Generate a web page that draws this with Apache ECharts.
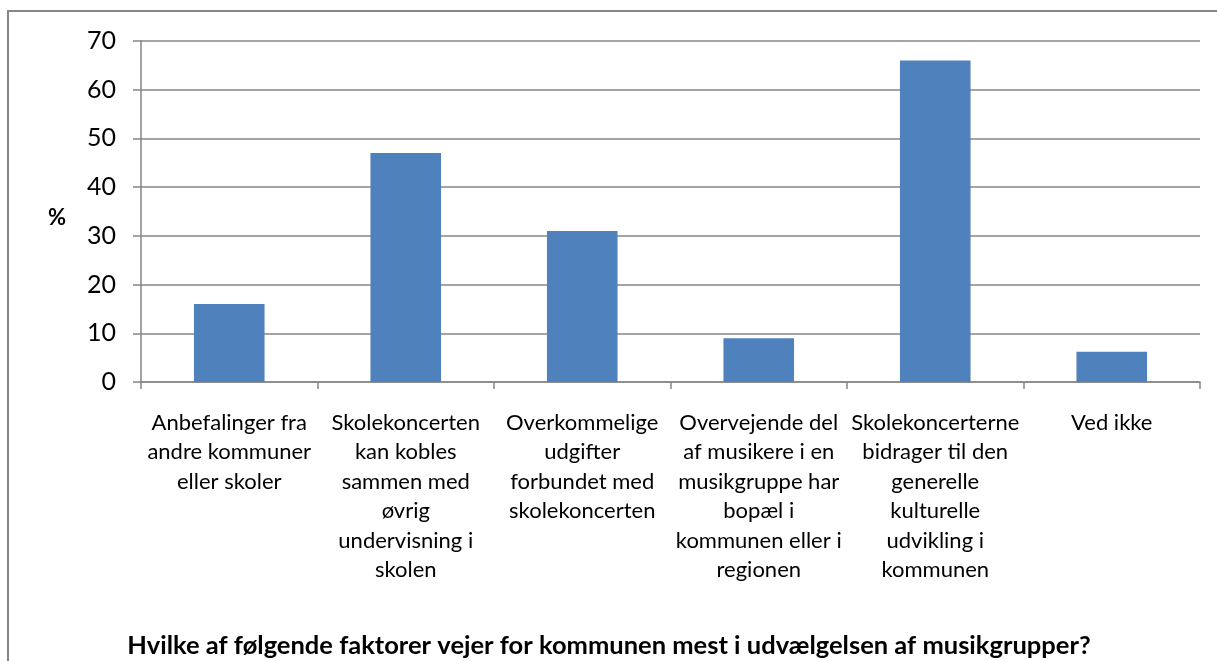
<!DOCTYPE html>
<html>
<head>
<meta charset="utf-8">
<script src="https://cdn.jsdelivr.net/npm/echarts@6/dist/echarts.min.js"></script>
<style>
  html, body { margin: 0; padding: 0; background: #ffffff; }
  #chart { width: 1217px; height: 661px; }
</style>
</head>
<body>
<div id="chart"></div>
<script>
// Answer categories (line breaks as the labels wrap under each bar)
const categories = [
  'Anbefalinger fra\nandre kommuner\neller skoler',
  'Skolekoncerten\nkan kobles\nsammen med\nøvrig\nundervisning i\nskolen',
  'Overkommelige\nudgifter\nforbundet med\nskolekoncerten',
  'Overvejende del\naf musikere i en\nmusikgruppe har\nbopæl i\nkommunen eller i\nregionen',
  'Skolekoncerterne\nbidrager til den\ngenerelle\nkulturelle\nudvikling i\nkommunen',
  'Ved ikke'
];
// Share of municipalities (%)
const shares = [16, 47, 31, 9, 66, 6.2];
const yTicks = { min: 0, max: 70, step: 10 };
const yAxisName = '%';
const title = 'Hvilke af følgende faktorer vejer for kommunen mest i udvælgelsen af musikgrupper?';

const FONT = 'Lato, "Open Sans", sans-serif';
const GREY = '#868686';

const chart = echarts.init(document.getElementById('chart'), null, { renderer: 'canvas' });
chart.setOption({
  animation: false,
  backgroundColor: '#ffffff',
  title: {
    text: title,
    left: 604,
    textAlign: 'center',
    top: 628,
    textStyle: { fontFamily: FONT, fontWeight: 'bold', fontSize: 25.5, color: '#000' }
  },
  graphic: [
    {
      type: 'rect',
      shape: { x: 8, y: 11, width: 1240, height: 700 },
      style: { fill: null, stroke: GREY, lineWidth: 2 },
      silent: true
    },
    {
      type: 'text',
      left: 48, top: 207,
      style: { text: yAxisName, fontFamily: FONT, fontWeight: 'bold', fontSize: 22, fill: '#000' }
    }
  ],
  grid: { left: 141, right: 17, top: 41, bottom: 279, containLabel: false },
  xAxis: {
    type: 'category',
    data: categories,
    axisLine: { lineStyle: { color: GREY, width: 1.5 } },
    axisTick: { show: true, length: 7, alignWithLabel: false, lineStyle: { color: GREY, width: 1.5 } },
    axisLabel: {
      interval: 0,
      margin: 26,
      color: '#000',
      fontFamily: FONT,
      fontSize: 22,
      lineHeight: 29.5,
      align: 'center'
    }
  },
  yAxis: {
    type: 'value',
    min: yTicks.min,
    max: yTicks.max,
    interval: yTicks.step,
    axisLine: { show: true, lineStyle: { color: GREY, width: 1.5 } },
    axisTick: { show: true, length: 8, inside: false, lineStyle: { color: GREY, width: 1.5 } },
    splitLine: { show: true, lineStyle: { color: GREY, width: 1.5 } },
    axisLabel: { margin: 25, color: '#000', fontFamily: FONT, fontSize: 25 }
  },
  series: [{
    type: 'bar',
    data: shares,
    barWidth: '40%',
    itemStyle: { color: '#4F81BD' }
  }]
});
</script>
</body>
</html>
